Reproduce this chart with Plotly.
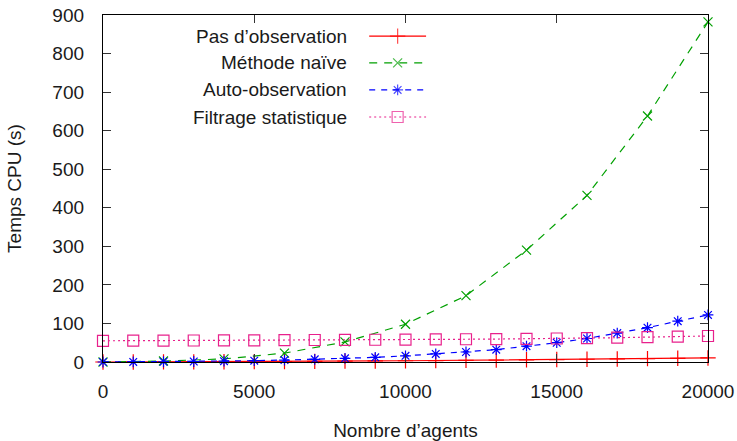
import plotly.graph_objects as go

# ---- data ----
agents = [0, 1000, 2000, 3000, 4000, 5000, 6000, 7000, 8000, 9000, 10000,
          11000, 12000, 13000, 14000, 15000, 16000, 17000, 18000, 19000, 20000]
agents_naive = [0, 2000, 4000, 6000, 8000, 10000, 12000, 14000, 16000, 18000, 20000]

pas_observation = [0, 0.1, 0.2, 0.4, 0.6, 0.9, 1.3, 1.7, 2.2, 2.7, 3.2,
                   3.8, 4.4, 5.0, 5.7, 6.4, 7.1, 7.9, 8.7, 9.6, 10.5]
methode_naive = [0, 2.5, 8, 23, 52, 98, 172, 290, 432, 638, 882]
auto_observation = [0, 0.3, 0.7, 1.3, 2.2, 3.4, 5, 7, 9.5, 12, 16,
                    21, 26, 32, 41, 50, 61, 75, 89, 106, 122]
filtrage = [55, 55.2, 55.5, 55.8, 56, 56.3, 56.6, 57, 57.3, 57.7, 58,
            58.5, 59, 59.5, 60, 61, 62, 63, 64.5, 66, 67.5]

names = ["Pas d\u2019observation", "M\u00e9thode na\u00efve", "Auto-observation", "Filtrage statistique"]
x_ticks = [0, 5000, 10000, 15000, 20000]
x_tick_labels = ["0", "5000", "10000", "15000", "20000"]
y_ticks = [0, 100, 200, 300, 400, 500, 600, 700, 800, 900]
y_tick_labels = ["0", "100", "200", "300", "400", "500", "600", "700", "800", "900"]

# ---- styles ----
colors = ["#ff0000", "#00a000", "#0000ff", "#e8208c"]
dashes = ["solid", "8px,7px", "6px,6px", "2px,3px"]
symbols = ["cross-thin", "x-thin", "asterisk", "square-open"]
msizes = [11, 9, 9, 11]
FONT = "Liberation Sans, Arial, sans-serif"
FS = 19

series = [
    (agents, pas_observation),
    (agents_naive, methode_naive),
    (agents, auto_observation),
    (agents, filtrage),
]

fig = go.Figure()
for i, (xs, ys) in enumerate(series):
    fig.add_trace(go.Scatter(
        x=xs, y=ys, mode="lines+markers", name=names[i], showlegend=False,
        cliponaxis=False,
        line=dict(color=colors[i], width=1.2, dash=dashes[i]),
        marker=dict(symbol=symbols[i], size=msizes[i], color=colors[i],
                    line=dict(color=colors[i], width=1.2)),
    ))

# ---- gnuplot-style key (text right, sample on the right) on an overlay axis ----
key_x = [0.44, 0.487, 0.534]
key_rows = [0.939, 0.862, 0.784, 0.706]
key_text_x = 0.4066
for i in range(4):
    fig.add_trace(go.Scatter(
        x=key_x, y=[key_rows[i]] * 3, xaxis="x2", yaxis="y2",
        mode="lines+markers", showlegend=False, cliponaxis=False,
        line=dict(color=colors[i], width=1.2, dash=dashes[i]),
        marker=dict(symbol=symbols[i], size=[0, msizes[i], 0], color=colors[i],
                    line=dict(color=colors[i], width=1.2)),
        hoverinfo="skip",
    ))
    fig.add_annotation(
        x=key_text_x, y=key_rows[i], xref="x2", yref="y2",
        text=names[i], showarrow=False, xanchor="right", yanchor="middle",
        font=dict(family=FONT, size=FS, color="#1a1a1a"),
    )

axis_common = dict(
    showline=True, linecolor="black", linewidth=1.3, mirror="ticks",
    ticks="inside", ticklen=8, tickwidth=1, tickcolor="#333333",
    showgrid=False, zeroline=False, automargin=False,
    tickfont=dict(family=FONT, size=FS, color="#1a1a1a"),
)

fig.update_layout(
    width=737, height=441,
    margin=dict(l=103, r=29, t=15, b=79),
    paper_bgcolor="white", plot_bgcolor="white",
    showlegend=False,
    xaxis=dict(range=[0, 20000], tickvals=x_ticks, ticktext=x_tick_labels,
               ticklabelstandoff=12,
               title=dict(text="Nombre d\u2019agents", standoff=26,
                          font=dict(family=FONT, size=FS, color="#1a1a1a")),
               **axis_common),
    yaxis=dict(range=[0, 900], tickvals=y_ticks, ticktext=y_tick_labels,
               ticklabelstandoff=14,
               title=dict(text="Temps CPU (s)", standoff=25,
                          font=dict(family=FONT, size=FS, color="#1a1a1a")),
               **axis_common),
    xaxis2=dict(overlaying="x", range=[0, 1], visible=False, fixedrange=True),
    yaxis2=dict(overlaying="y", range=[0, 1], visible=False, fixedrange=True),
)

fig.write_html("out.html")
